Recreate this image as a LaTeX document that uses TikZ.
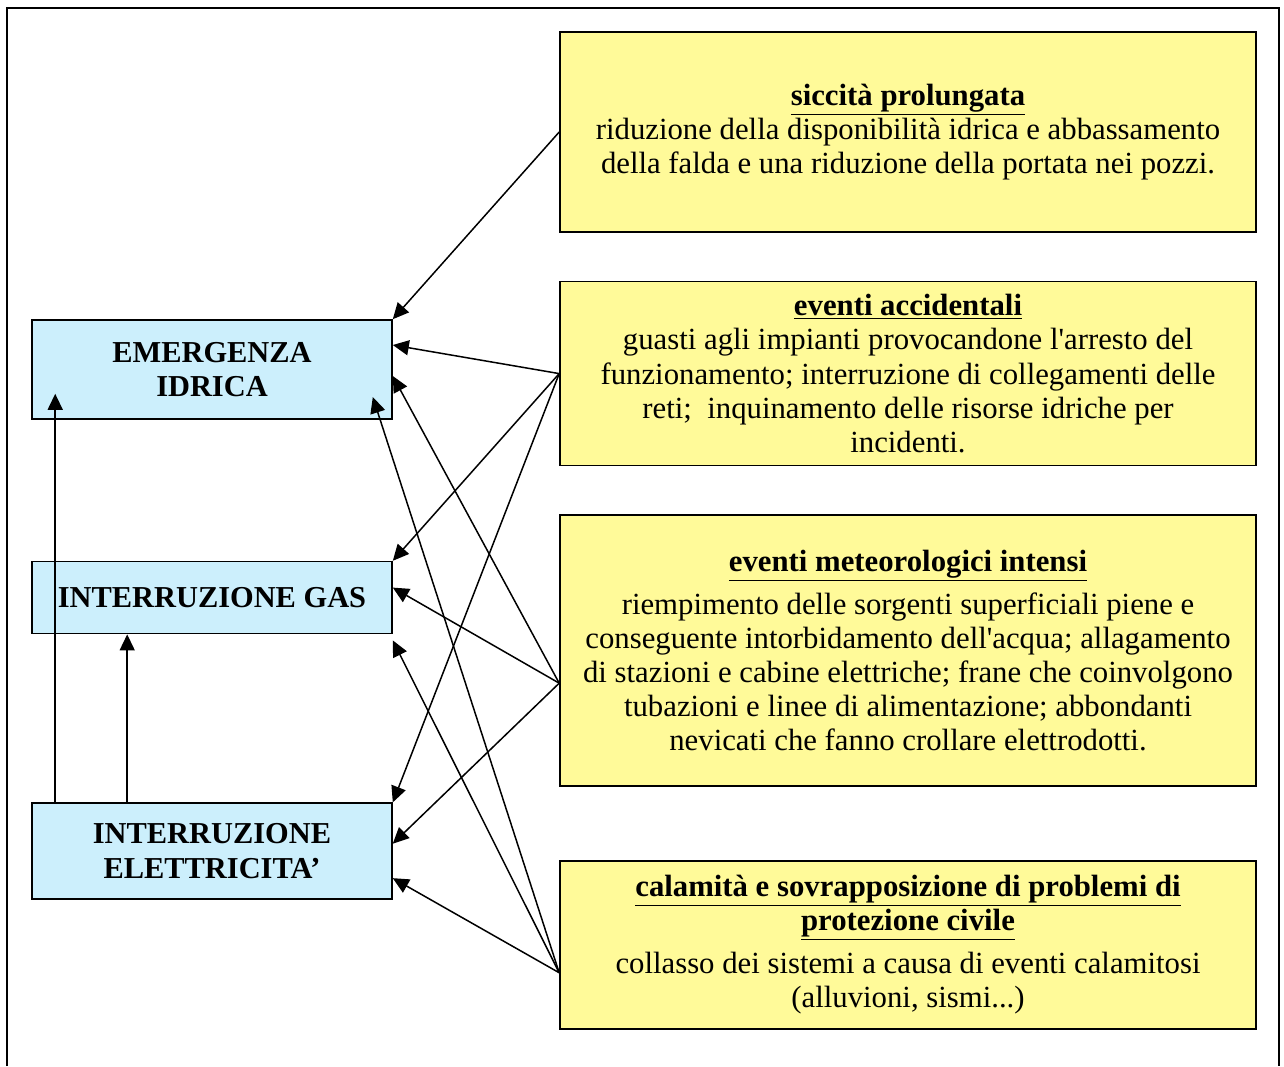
\documentclass[tikz,border=0pt]{standalone}
\usepackage{fontspec}
\setmainfont{Liberation Serif}
\usetikzlibrary{positioning,arrows.meta}

\begin{document}
\begin{tikzpicture}[
effect/.style={rectangle, draw, line width=0.9pt, fill=cyan!20, minimum width=7.2cm, inner sep=0pt, align=center, font=\fontsize{17.3}{19.6}\selectfont\bfseries},
cause/.style={rectangle, draw, line width=0.9pt, fill=yellow!40, minimum width=13.92cm, inner sep=0pt, align=center, font=\fontsize{17.5}{19.4}\selectfont},
arrow/.style={->, >={Triangle[length=3.2mm,width=3mm]}, line width=0.3mm},
node distance=0.96cm,
]

\useasboundingbox (0,0) rectangle (25.68,-21.32);
\draw[line width=0.9pt] (0.14,-21.32) -- (0.14,-0.16) -- (25.58,-0.16) -- (25.58,-21.32);

\node[effect, minimum height=1.98cm] (emergenza) at (4.24,-7.39) {EMERGENZA\\IDRICA};
\node[effect, minimum height=1.44cm] (gas) [below=2.82cm of emergenza] {INTERRUZIONE GAS};
\node[effect, minimum height=1.92cm] (elettricita) [below=3.36cm of gas] {INTERRUZIONE\\ELETTRICITA’};

\node[cause, minimum height=4cm] (siccita) at (18.16,-2.64) {\underline{\textbf{siccità prolungata}}\\
riduzione della disponibilità idrica e abbassamento\\
della falda e una riduzione della portata nei pozzi.};
\node[cause, minimum height=3.68cm] (accidentali) [below=of siccita] {\underline{\textbf{eventi accidentali}}\\
guasti agli impianti provocandone l\textquotesingle arresto del\\
funzionamento; interruzione di collegamenti delle\\
reti;\ \ inquinamento delle risorse idriche per\\
incidenti.};
\node[cause, minimum height=5.42cm] (meteo) [below=of accidentali] {\underline{\textbf{eventi meteorologici intensi}}\\[5pt]
riempimento delle sorgenti superficiali piene e\\
conseguente intorbidamento dell\textquotesingle acqua; allagamento\\
di stazioni e cabine elettriche; frane che coinvolgono\\
tubazioni e linee di alimentazione; abbondanti\\
nevicati che fanno crollare elettrodotti.};
\node[cause, minimum height=3.36cm] (calamita) [below=1.46cm of meteo] {\underline{\textbf{calamità e sovrapposizione di problemi di}}\\
\underline{\textbf{protezione civile}}\\[5pt]
collasso dei sistemi a causa di eventi calamitosi\\
(alluvioni, sismi...)};

\coordinate (fromsic) at (siccita.west);
\coordinate (fromacc) at (accidentali.west);
\coordinate (frommet) at ([yshift=-0.65cm]meteo.west);
\coordinate (fromcal) at ([yshift=-0.56cm]calamita.west);

\draw[arrow] (fromsic) -- (emergenza.north east);
\draw[arrow] (fromacc) -- ([yshift=0.49cm]emergenza.east);
\draw[arrow] (fromacc) -- (gas.north east);
\draw[arrow] (fromacc) -- (elettricita.north east);
\draw[arrow] (frommet) -- ([yshift=-0.13cm]emergenza.east);
\draw[arrow] (frommet) -- ([yshift=0.2cm]gas.east);
\draw[arrow] (frommet) -- ([yshift=0.15cm]elettricita.east);
\draw[arrow] (fromcal) -- ([xshift=-0.4cm,yshift=-0.55cm]emergenza.east);
\draw[arrow] (fromcal) -- ([yshift=-0.12cm]gas.south east);
\draw[arrow] (fromcal) -- ([yshift=-0.54cm]elettricita.east);

\draw[arrow] ([xshift=0.48cm]elettricita.north west) -- ([xshift=0.48cm,yshift=0.52cm]emergenza.south west);
\draw[arrow] ([xshift=1.92cm]elettricita.north west) -- ([xshift=1.92cm]gas.south west);

\end{tikzpicture}
\end{document}
